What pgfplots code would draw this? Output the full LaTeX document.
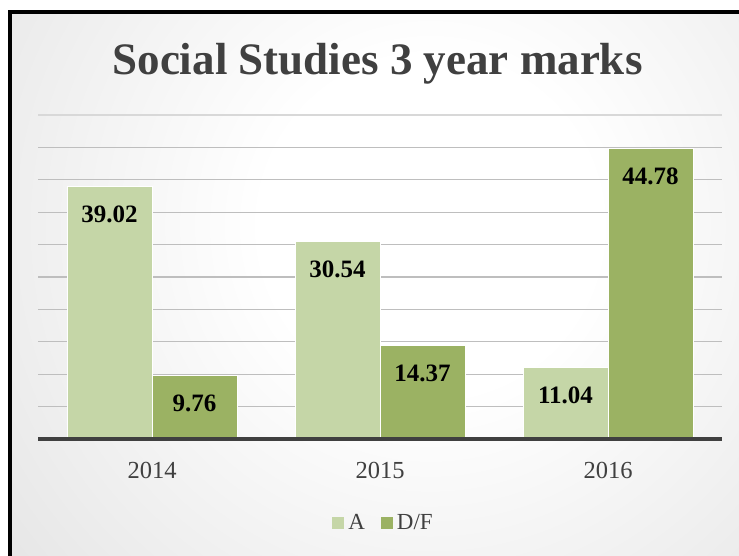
\documentclass[border=0pt]{standalone}
\usepackage{fontspec}
\setmainfont{Liberation Serif}
\usepackage{pgfplots}
\pgfplotsset{compat=1.18}
\definecolor{barA}{HTML}{C5D6A7}
\definecolor{barD}{HTML}{9BB263}
\definecolor{txt}{HTML}{404040}
\definecolor{bggray}{HTML}{C2C2C2}
\definecolor{gridc}{HTML}{BEBEBE}
\pgfdeclareradialshading{bgshade}{\pgfpoint{0bp}{0bp}}{color(0bp)=(white); color(7bp)=(white); color(45bp)=(bggray); color(50bp)=(bggray)}
\begin{document}
\begin{tikzpicture}[x=1bp,y=1bp]
\useasboundingbox (0,0) rectangle (739,556);
\clip (0,0) rectangle (739,556);
\fill[white] (0,0) rectangle (739,556);
\begin{scope}
\clip (9.5,-20) rectangle (760,544);
\shade[shading=bgshade] (430,330) circle (600);
\end{scope}
\draw[black, line width=4bp] (9.5,-20) rectangle (760,544);
\node[anchor=base, text=txt, font=\fontsize{45bp}{45bp}\selectfont\bfseries] at (377.5,481) {Social Studies 3 year marks};
\begin{axis}[
  at={(38bp,117bp)}, anchor=south west,
  scale only axis, width=684bp, height=324bp,
  xmin=-0.5, xmax=2.5, ymin=0, ymax=50,
  axis line style={draw=none},
  ybar=0pt, bar width=85bp,
  ytick={5,10,...,45}, yticklabels={},
  ymajorgrids, grid style={gridc, line width=1.2bp},
  major tick length=0pt,
  xtick={0,1,2}, xticklabels={2014,2015,2016},
  xticklabel style={text=txt, font=\fontsize{24.5bp}{24.5bp}\selectfont, inner sep=0pt, anchor=north, yshift=-23bp},
  nodes near coords,
  nodes near coords align={center},
  every node near coord/.append style={anchor=center, yshift=-28bp, text=black, font=\fontsize{25bp}{25bp}\selectfont\bfseries},
  point meta=explicit symbolic,
  legend columns=2,
  legend style={at={(0.5066,-0.259)}, anchor=center, draw=none, fill=none,
    font=\fontsize{23bp}{23bp}\selectfont, text=txt,
    nodes={inner sep=4bp},
    inner sep=0pt},
  legend image code/.code={\fill[#1, draw=none] (0bp,-6bp) rectangle (12bp,6bp);},
  clip=false,
]
\addplot[fill=barA, draw=white, line width=0.8bp] coordinates {(0,39.02)[39.02] (1,30.54)[30.54] (2,11.04)[11.04]};
\addplot[fill=barD, draw=white, line width=0.8bp] coordinates {(0,9.76)[9.76] (1,14.37)[14.37] (2,44.78)[44.78]};
\legend{A\rule{12bp}{0pt},D/F}
\draw[txt, line width=3.5bp] (axis cs:-0.5,0) -- (axis cs:2.5,0);
\draw[gridc!60, line width=1.2bp] (axis cs:-0.5,50) -- (axis cs:2.5,50);
\end{axis}
\end{tikzpicture}
\end{document}
